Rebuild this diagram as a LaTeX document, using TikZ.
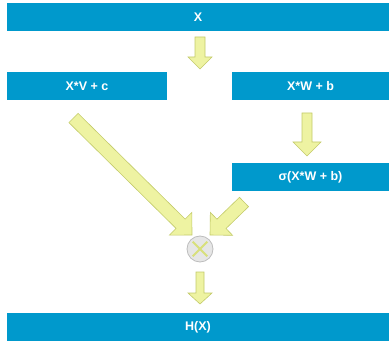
\documentclass[tikz,border=0pt]{standalone}
\usepackage{fontspec}
\setmainfont{Liberation Sans}
\usetikzlibrary{calc}
\definecolor{boxblue}{HTML}{0099CC}
\definecolor{arrfill}{HTML}{EEF3A2}
\definecolor{arrline}{HTML}{C3CB6A}
\definecolor{mulfill}{HTML}{E6E6E6}
\definecolor{mulline}{HTML}{BDBDBD}
\definecolor{mulx}{HTML}{D8E07C}

\tikzset{
  box/.style={fill=boxblue, text=white, inner sep=0pt, minimum height=28pt,
    font=\bfseries\fontsize{12.5}{14}\selectfont},
  % #1 half shaft, #2 half head, #3 head length
  fatarrow/.style n args={3}{draw=arrline, fill=arrfill, line width=0.6pt, line join=miter,
    to path={($(\tikztostart)!#1!-90:(\tikztotarget)$)
      -- ($(\tikztotarget)!#3!(\tikztostart)!#1!90:(\tikztostart)$)
      -- ($(\tikztotarget)!#3!(\tikztostart)!#2!90:(\tikztostart)$)
      -- (\tikztotarget)
      -- ($(\tikztotarget)!#3!(\tikztostart)!#2!-90:(\tikztostart)$)
      -- ($(\tikztotarget)!#3!(\tikztostart)!#1!-90:(\tikztostart)$)
      -- ($(\tikztostart)!#1!90:(\tikztotarget)$) -- cycle}}
}

\begin{document}
\begin{tikzpicture}[x=1pt, y=-1pt]
  \useasboundingbox (0,0) rectangle (389,345);

  \node[box, minimum width=382pt] (x) at (198,17) {X};
  \node[box, minimum width=160pt] (xv) at (87,86.5) {X*V + c};
  \node[box, minimum width=157pt] (xw) at (310.5,86.5) {X*W + b};
  \node[box, minimum width=157pt] (sig) at (310.5,177) {σ(X*W + b)};
  \node[box, minimum width=382pt] (hx) at (198,327) {H(X)};

  \node[circle, draw=mulline, fill=mulfill, line width=0.8pt, minimum size=26pt, inner sep=0pt] (mul) at (200,249) {};
  \draw[mulx, line width=2pt, shorten <=3pt, shorten >=3pt] (mul.45) -- (mul.225);
  \draw[mulx, line width=2pt, shorten <=3pt, shorten >=3pt] (mul.135) -- (mul.315);

  % arrow ends
  \coordinate (a1s) at (200,37);
  \coordinate (a1e) at (200,69);
  \coordinate (a2s) at (307,113);
  \coordinate (a2e) at (307,156);
  \coordinate (a3s) at (73.5,118);
  \coordinate (a3e) at (192,235);
  \coordinate (a4s) at (244,202);
  \coordinate (a4e) at (210,235);
  \coordinate (a5s) at (200,272);
  \coordinate (a5e) at (200,304);

  \draw[fatarrow={5pt}{12pt}{12pt}] (a1s) to (a1e);
  \draw[fatarrow={5pt}{14pt}{14pt}] (a2s) to (a2e);
  \draw[fatarrow={6.5pt}{16pt}{16pt}] (a3s) to (a3e);
  \draw[fatarrow={6.5pt}{16pt}{16pt}] (a4s) to (a4e);
  \draw[fatarrow={4pt}{12pt}{11pt}] (a5s) to (a5e);
\end{tikzpicture}
\end{document}
